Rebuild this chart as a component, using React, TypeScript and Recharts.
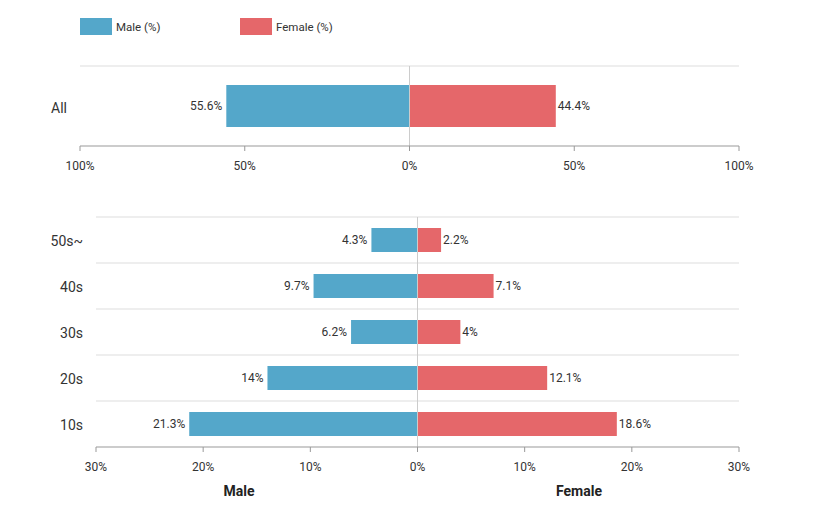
import { BarChart, Bar, XAxis, YAxis, CartesianGrid, ReferenceLine, LabelList } from 'recharts';

const MALE_COLOR = '#54a7ca';
const FEMALE_COLOR = '#e5676a';

const seriesNames = ['Male (%)', 'Female (%)'];

const allGroups = ['All'];
const allMale = [55.6];
const allFemale = [44.4];

const ageGroups = ['50s~', '40s', '30s', '20s', '10s'];
const ageMale = [4.3, 9.7, 6.2, 14, 21.3];
const ageFemale = [2.2, 7.1, 4, 12.1, 18.6];

const allTicks = [-100, -50, 0, 50, 100];
const ageTicks = [-30, -20, -10, 0, 10, 20, 30];

// male values go negative so they grow to the left
const toRows = (groups: string[], male: number[], female: number[]) =>
  groups.map((g, i) => ({ group: g, male: -male[i], female: female[i] }));

const allData = toRows(allGroups, allMale, allFemale);
const ageData = toRows(ageGroups, ageMale, ageFemale);

const pct = (v: number) => `${Math.abs(v)}%`;
const font = 'Roboto, "Noto Sans", sans-serif';

const barLabel = (side: 'left' | 'right') => (props: any) => {
  const vb = props.viewBox || {};
  const x = props.x ?? vb.x;
  const y = props.y ?? vb.y;
  const w = props.width ?? vb.width;
  const h = props.height ?? vb.height;
  const lo = Math.min(x, x + w);
  const hi = Math.max(x, x + w);
  return (
    <text
      x={side === 'left' ? lo - 4 : hi + 2}
      y={y + h / 2}
      dy="0.35em"
      textAnchor={side === 'left' ? 'end' : 'start'}
      fontSize={12}
      fill="#333"
      fontFamily={font}
    >
      {pct(props.value)}
    </text>
  );
};

const bandLines = (n: number) => ({ offset }: any) =>
  Array.from({ length: n }, (_, i) => offset.top + (i * offset.height) / n);

function Pyramid({ data, ticks, yWidth, height, marginTop, marginBottom, barSize, catDy }: any) {
  return (
    <BarChart
      width={819}
      height={height}
      data={data}
      layout="vertical"
      stackOffset="sign"
      margin={{ top: marginTop, right: 80, left: 0, bottom: marginBottom }}
    >
      <CartesianGrid
        vertical={false}
        stroke="#ddd"
        horizontalCoordinatesGenerator={bandLines(data.length)}
      />
      <XAxis
        type="number"
        domain={[ticks[0], ticks[ticks.length - 1]]}
        ticks={ticks}
        tickFormatter={pct}
        height={30}
        stroke="#999"
        tickSize={5}
        tickMargin={10}
        tick={{ fontSize: 12, fill: '#333', fontFamily: font }}
      />
      <YAxis
        type="category"
        dataKey="group"
        width={yWidth}
        axisLine={false}
        tickLine={false}
        tickMargin={7}
        tick={{ fontSize: 14, fill: '#333', fontFamily: font, dy: catDy }}
      />
      <ReferenceLine x={0} stroke="#ccc" />
      <Bar dataKey="male" stackId="s" fill={MALE_COLOR} barSize={barSize} isAnimationActive={false}>
        <LabelList dataKey="male" content={barLabel('left')} />
      </Bar>
      <Bar dataKey="female" stackId="s" fill={FEMALE_COLOR} barSize={barSize} isAnimationActive={false}>
        <LabelList dataKey="female" content={barLabel('right')} />
      </Bar>
    </BarChart>
  );
}

export default function App() {
  const colors = [MALE_COLOR, FEMALE_COLOR];
  return (
    <div style={{ position: 'absolute', left: 0, top: 0, width: 819, height: 510, background: '#fff', fontFamily: font }}>
      {seriesNames.map((name, i) => (
        <div
          key={name}
          style={{ position: 'absolute', left: 80 + i * 160, top: 18, display: 'flex', alignItems: 'center', fontSize: 11.5, color: '#333' }}
        >
          <span style={{ display: 'inline-block', width: 32, height: 17, background: colors[i], marginRight: 4 }} />
          <span>{name}</span>
        </div>
      ))}
      <div style={{ position: 'absolute', left: 0, top: 0 }}>
        <Pyramid data={allData} ticks={allTicks} yWidth={80} height={190} marginTop={66} marginBottom={14} barSize={42} catDy={2} />
      </div>
      <div style={{ position: 'absolute', left: 0, top: 190 }}>
        <Pyramid data={ageData} ticks={ageTicks} yWidth={96} height={290} marginTop={27} marginBottom={3} barSize={24} catDy={1} />
      </div>
      <div style={{ position: 'absolute', left: 239, top: 491, transform: 'translate(-50%, -50%)', fontSize: 14, fontWeight: 'bold', color: '#222' }}>
        Male
      </div>
      <div style={{ position: 'absolute', left: 579, top: 491, transform: 'translate(-50%, -50%)', fontSize: 14, fontWeight: 'bold', color: '#222' }}>
        Female
      </div>
    </div>
  );
}
